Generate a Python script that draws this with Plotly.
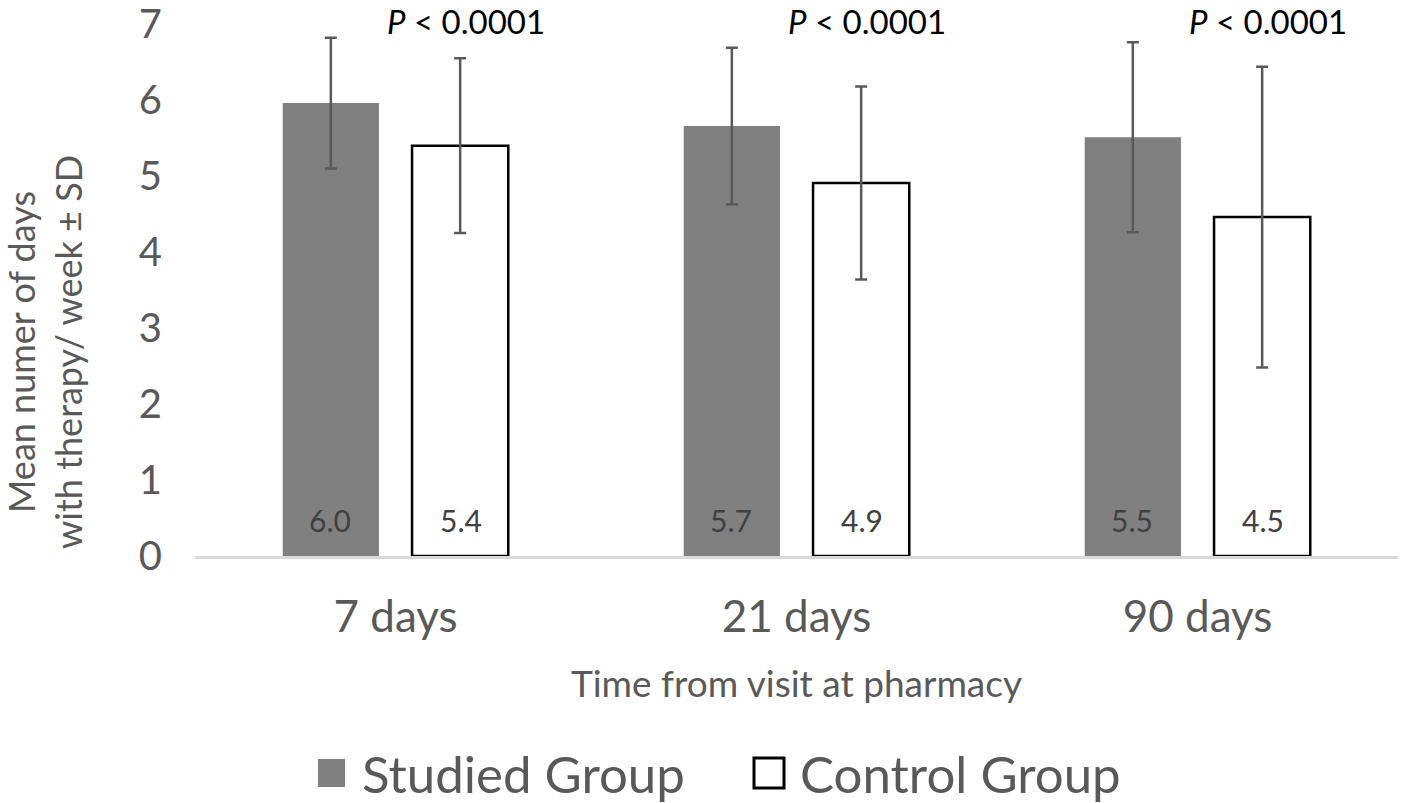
import plotly.graph_objects as go

categories = ["7 days", "21 days", "90 days"]
studied_mean = [5.96, 5.66, 5.51]
studied_sd = [0.86, 1.03, 1.25]
control_mean = [5.40, 4.91, 4.46]
control_sd = [1.15, 1.27, 1.98]
p_labels = ["<i>P</i> < 0.0001", "<i>P</i> < 0.0001", "<i>P</i> < 0.0001"]
legend_names = ["Studied Group", "Control Group"]

FONT = "Lato, 'Open Sans', sans-serif"
GREY_TXT = "#595959"
STUDIED = "#808080"

# layout geometry (pixels)
W, H = 1416, 803
ML, MR, MT, MB = 195, 18, 24, 247
PW, PH = W - ML - MR, H - MT - MB


def px_x(p):
    return (p - ML) / PW


def px_y(p):
    return (H - MB - p) / PH


fig = go.Figure()
fig.add_trace(go.Bar(
    name=legend_names[0], x=categories, y=studied_mean, showlegend=False,
    marker=dict(color=STUDIED, line=dict(width=0)),
    error_y=dict(type="data", array=studied_sd, color="#595959", thickness=2.5, width=6),
))
fig.add_trace(go.Bar(
    name=legend_names[1], x=categories, y=control_mean, showlegend=False,
    marker=dict(color="white", line=dict(color="black", width=2.5)),
    error_y=dict(type="data", array=control_sd, color="#595959", thickness=2.5, width=6),
))

# value labels near the bottom of each bar
OFF = 0.1625
for i in range(len(categories)):
    for off, vals in ((-OFF, studied_mean), (OFF, control_mean)):
        fig.add_annotation(x=i + off, y=0, xref="x", yref="y", yanchor="middle", yshift=36,
                           text=f"{vals[i]:.1f}", showarrow=False,
                           font=dict(family=FONT, size=30, color="#404040"))

for i, lab in enumerate(p_labels):
    fig.add_annotation(x=i + 0.177, y=1.0, xref="x", yref="paper", yanchor="middle",
                       yshift=3, text=lab, showarrow=False,
                       font=dict(family=FONT, size=33, color="black"))

fig.add_annotation(
    x=px_x(44), y=px_y(352), xref="paper", yref="paper", xanchor="center", yanchor="middle",
    text="Mean numer of days<br>with therapy/ week ± SD", textangle=-90, showarrow=False,
    font=dict(family=FONT, size=36, color=GREY_TXT))

# custom legend (larger swatches than plotly's legend allows)
leg_y = 773
fig.add_shape(type="rect", xref="paper", yref="paper",
              x0=px_x(318), x1=px_x(345), y0=px_y(759), y1=px_y(787),
              fillcolor=STUDIED, line=dict(width=0))
fig.add_shape(type="rect", xref="paper", yref="paper",
              x0=px_x(754), x1=px_x(784), y0=px_y(758), y1=px_y(788),
              fillcolor="white", line=dict(color="black", width=3))
for name, xpix in zip(legend_names, (360, 798)):
    fig.add_annotation(x=px_x(xpix), y=px_y(leg_y), xref="paper", yref="paper",
                       xanchor="left", yanchor="middle", text=name, showarrow=False,
                       font=dict(family=FONT, size=51, color=GREY_TXT))

fig.update_layout(
    width=W, height=H,
    margin=dict(l=ML, r=MR, t=MT, b=MB, autoexpand=False),
    plot_bgcolor="white", paper_bgcolor="white",
    barmode="group", bargap=0.355, bargroupgap=0.256,
    font=dict(family=FONT, color=GREY_TXT),
    showlegend=False,
)
fig.update_xaxes(
    automargin=False,
    showline=True, linecolor="#d9d9d9", linewidth=3, ticks="",
    tickfont=dict(family=FONT, size=44, color=GREY_TXT), ticklabelstandoff=20,
    title=dict(text="Time from visit at pharmacy", font=dict(family=FONT, size=37, color=GREY_TXT), standoff=32),
)
fig.update_yaxes(
    automargin=False,
    range=[0, 7.001], tickvals=[0, 1, 2, 3, 4, 5, 6, 7], showgrid=False, zeroline=False,
    showline=False, ticks="", ticklabeloverflow="allow",
    tickfont=dict(family=FONT, size=40, color=GREY_TXT), ticklabelstandoff=32,
)

fig.write_html("out.html", config={"displayModeBar": False},
               post_script="document.body.style.margin='0';document.body.style.overflow='hidden';")
